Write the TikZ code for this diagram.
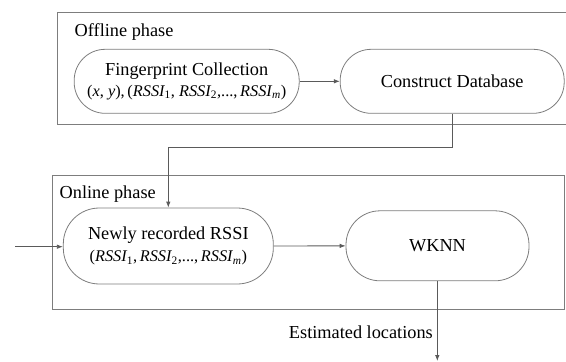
\documentclass[tikz,border=0pt]{standalone}
\usepackage{fontspec}
\setmainfont{Liberation Serif}
\usetikzlibrary{arrows.meta}
\definecolor{boxgray}{RGB}{125,125,125}
\definecolor{linegray}{RGB}{90,90,90}
\newcommand{\rsi}[1]{\textit{RSSI}\kern-0.5pt\textsubscript{#1}}
\tikzset{
  phasebox/.style={draw=boxgray, line width=0.8pt},
  pill/.style={draw=boxgray, line width=0.8pt, rectangle, rounded corners=31pt,
    align=center, inner sep=0pt, font=\fontsize{18.3}{22}\selectfont},
  conn/.style={draw=linegray, line width=0.8pt, -{Latex[length=6pt,width=4.5pt]}},
  lbl/.style={inner sep=0pt, font=\fontsize{18.3}{22}\selectfont},
  small/.style={}
}
\newcommand{\mathline}[1]{{\fontsize{16.3}{20}\selectfont #1}}
\begin{document}
\begin{tikzpicture}[x=1pt,y=-1pt]
\useasboundingbox (0,0) rectangle (566,362);
\clip (0,0) rectangle (566,362);
% phase boxes
\draw[phasebox] (57.7,12.3) rectangle (575,124.3);
\draw[phasebox] (52.3,175) rectangle (564,309.3);
\node[lbl, anchor=west] (offl) at (74.5,31.7) {Offline phase};
\node[lbl, anchor=west] (onl) at (59.5,194) {Online phase};
% nodes
\node[pill, minimum width=225pt, minimum height=64pt] (fp) at (186.7,81.3)
  {Fingerprint Collection\\[-1pt]\mathline{(\textit{x}, \textit{y}),\,(\rsi{1}, \rsi{2},...,\,\rsi{\textit{m}})}};
\node[pill, minimum width=224pt, minimum height=64pt] (cd) at (452.2,81.3) {Construct Database};
\node[pill, rounded corners=36pt, minimum width=210pt, minimum height=76pt] (nr) at (168.3,246)
  {Newly recorded RSSI\\[0pt]\mathline{(\rsi{1},\,\rsi{2},...,\,\rsi{\textit{m}})}};
\node[pill, rounded corners=34pt, minimum width=183pt, minimum height=70pt] (wk) at (437.5,245.8) {WKNN};
% connectors
\coordinate (inp) at (15,246.7);
\coordinate (outp) at (437.3,361);
\draw[conn] (fp) -- (cd);
\draw[conn] (cd.south) -- ++(0,33.4) -| (nr.north);
\draw[conn] (inp) -- (inp -| nr.west);
\draw[conn] (nr) -- (wk);
\draw[conn] (wk.south -| outp) -- (outp);
\node[lbl, anchor=east] (est) at (433,332) {Estimated locations};
\end{tikzpicture}
\end{document}
